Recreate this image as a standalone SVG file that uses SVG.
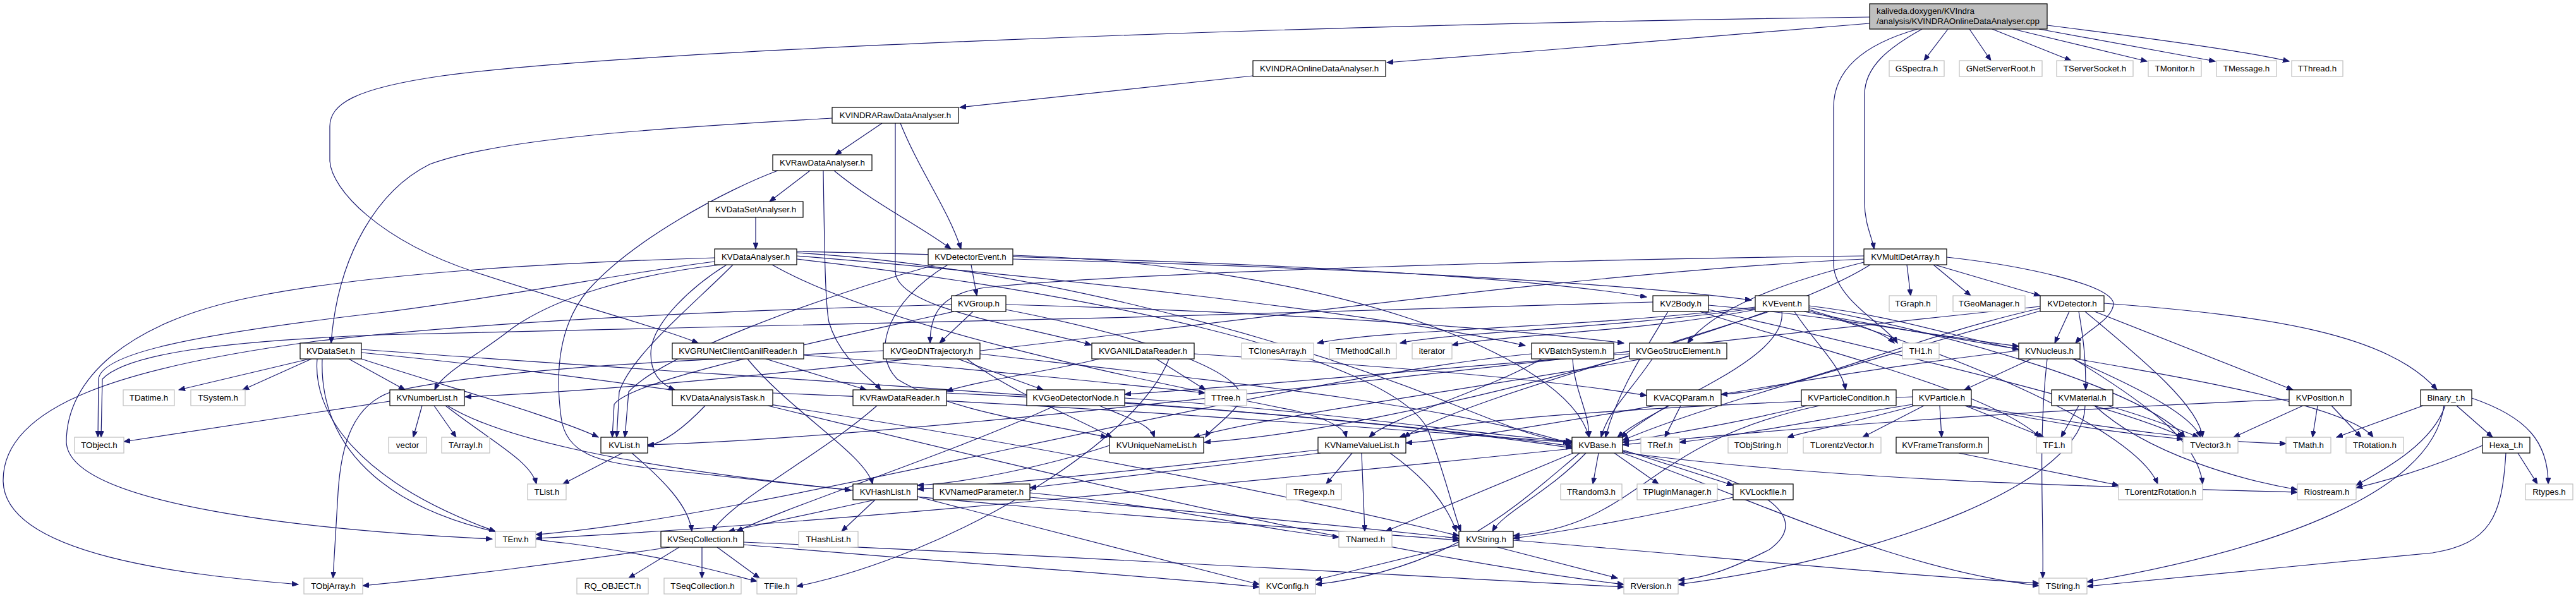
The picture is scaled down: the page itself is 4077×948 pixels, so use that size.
<svg xmlns="http://www.w3.org/2000/svg" width="4077" height="948" viewBox="0 0 4077 948">
<style>
.n rect{fill:#fff;stroke:#000;stroke-width:1.2}
.x rect{fill:#fff;stroke:#bfbfbf;stroke-width:1.2}
.r rect{fill:#bfbfbf;stroke:#000;stroke-width:1.2}
text{font-family:"Liberation Sans",Arial,sans-serif;font-size:13.33px;fill:#000;text-anchor:middle}
.r text{text-anchor:start}
.e path{fill:none;stroke:#191970;stroke-width:1.2;marker-end:url(#a)}
</style>
<defs>
<marker id="a" markerWidth="11" markerHeight="8" refX="10" refY="4" orient="auto" markerUnits="userSpaceOnUse"><path d="M0,0 L10,4 L0,8 z" fill="#191970" stroke="#191970" stroke-width="1"/></marker>
</defs>
<rect width="4077" height="948" fill="#fff"/>
<g id="edges" class="e">
<path d="M2959,37 C2700,58 2450,80 2195,99"/>
<path d="M2959,27 C2000,40 1000,80 700,120 C560,140 522,165 522,200 L522,255 C525,300 600,380 750,430 C900,480 1050,520 1105,543"/>
<path d="M3042,46 C2990,75 2951,105 2951,150 L2951,320 C2951,355 2963,375 2966,394"/>
<path d="M3035,46 C2950,70 2902,110 2902,170 L2902,420 C2905,475 2985,515 3003,543"/>
<path d="M3083,46 L3045,96"/>
<path d="M3117,46 L3151,96"/>
<path d="M3153,46 L3278,96"/>
<path d="M3186,46 L3398,97"/>
<path d="M3227,46 L3506,97"/>
<path d="M3240,40 C3400,60 3550,80 3623,97"/>
<path d="M1983,120 L1519,170"/>
<path d="M1396,195 L1322,245"/>
<path d="M1317,187 C1100,200 800,215 680,260 C600,300 535,400 524,543"/>
<path d="M1425,195 C1455,270 1500,330 1521,394"/>
<path d="M1417,195 L1417,430 C1420,490 1620,515 1727,546"/>
<path d="M1282,270 L1218,319"/>
<path d="M1303,270 C1305,400 1306,480 1312,510 C1330,570 1380,600 1394,617"/>
<path d="M1320,270 C1380,320 1460,360 1505,394"/>
<path d="M1231,270 C1150,300 1000,380 930,460 C880,520 880,600 888,660 C895,720 950,730 1020,740 C1150,755 1280,768 1347,776"/>
<path d="M1196,344 L1196,394"/>
<path d="M1131,408 C900,415 600,430 400,470 C200,510 105,600 105,700 C110,800 500,840 779,853"/>
<path d="M1131,414 C1000,430 800,470 600,495 C300,530 160,560 156,600 L155,692"/>
<path d="M1140,419 C1000,435 880,470 810,520 C760,560 700,590 688,617"/>
<path d="M1150,419 C1100,450 1030,510 1030,560 C1030,595 1050,610 1068,617"/>
<path d="M1261,400 C1600,420 2000,520 2300,640 C2400,680 2440,695 2484,701"/>
<path d="M1261,410 C1700,460 2200,560 2260,680 C2290,760 2300,810 2312,841"/>
<path d="M1222,419 C1400,520 1800,600 2050,650 C2110,665 2128,680 2131,692"/>
<path d="M1261,398 C1600,405 2300,420 2606,470"/>
<path d="M1261,405 C1700,440 2200,500 2414,547"/>
<path d="M1160,419 C1100,480 1000,560 980,620 L976,692"/>
<path d="M1537,419 L1546,468"/>
<path d="M1603,410 C2000,420 2500,440 2772,475"/>
<path d="M1500,419 C1400,480 1380,560 1420,600 C1500,650 1650,670 1752,692"/>
<path d="M1603,404 C2100,420 2480,560 2515,692"/>
<path d="M1480,419 C1300,470 1050,560 995,620 L989,692"/>
<path d="M1540,493 L1487,543"/>
<path d="M1592,482 C1900,490 2300,510 2570,543"/>
<path d="M1506,482 C1200,490 800,505 500,540 C200,580 5,640 5,760 C5,880 300,910 472,925"/>
<path d="M1510,493 C1300,540 1000,600 972,640 L969,692"/>
<path d="M1592,490 C1850,540 1990,600 1960,640 C1935,670 1915,680 1908,692"/>
<path d="M3018,419 L3024,468"/>
<path d="M3060,419 L3119,468"/>
<path d="M3062,419 L3229,468"/>
<path d="M3081,407 C3200,420 3340,450 3345,480 C3345,505 3300,525 3285,543"/>
<path d="M2950,415 C2850,440 2720,480 2671,543"/>
<path d="M2950,405 C2500,410 1800,430 1560,455 C1485,465 1472,500 1472,543"/>
<path d="M2950,410 C2300,440 1400,600 736,628"/>
<path d="M2960,419 C2800,520 2200,680 1906,700"/>
<path d="M2704,483 C2900,500 3050,530 3195,548"/>
<path d="M2704,490 C3000,560 3350,640 3455,692"/>
<path d="M2690,493 C2900,560 3150,620 3229,692"/>
<path d="M2640,493 C2600,560 2560,620 2541,692"/>
<path d="M2616,478 C2000,500 1000,520 600,530 C350,540 200,560 162,600 L160,692"/>
<path d="M2778,486 C2500,520 2200,520 2085,543"/>
<path d="M2778,488 C2550,520 2300,525 2216,543"/>
<path d="M2778,490 C2600,525 2380,530 2298,546"/>
<path d="M2863,484 C3000,500 3100,535 3195,553"/>
<path d="M2863,490 C2930,510 2980,525 2998,543"/>
<path d="M2840,493 C2870,540 2915,580 2921,617"/>
<path d="M2800,493 C2600,560 2300,640 2222,692"/>
<path d="M2820,493 C2830,570 2620,640 2560,692"/>
<path d="M2863,487 C3100,530 3400,620 3458,692"/>
<path d="M2863,492 C3100,560 3380,680 3415,766"/>
<path d="M2855,493 C3200,560 3700,620 3756,692"/>
<path d="M3275,493 L3252,543"/>
<path d="M3290,493 C3300,550 3301,580 3301,617"/>
<path d="M3315,493 L3629,617"/>
<path d="M3330,480 C3600,500 3780,530 3857,617"/>
<path d="M3229,488 C3000,540 2850,620 2724,624"/>
<path d="M3229,485 C2500,560 1500,690 1025,704"/>
<path d="M3300,493 C3380,560 3480,640 3486,692"/>
<path d="M3229,492 C3000,560 2700,640 2568,697"/>
<path d="M490,568 L283,617"/>
<path d="M493,568 L384,617"/>
<path d="M552,568 L641,617"/>
<path d="M572,568 C700,610 880,660 947,692"/>
<path d="M502,568 C495,650 560,760 784,841"/>
<path d="M510,568 C505,700 600,830 900,860 C1050,880 1120,900 1198,920"/>
<path d="M572,553 C1200,600 2000,640 2488,706"/>
<path d="M572,558 C1200,620 1900,750 2309,848"/>
<path d="M1183,568 C1250,650 1370,720 1381,766"/>
<path d="M1212,568 L1371,617"/>
<path d="M1272,562 C1500,580 1800,610 1907,622"/>
<path d="M1516,568 L1651,617"/>
<path d="M1398,555 C1100,570 800,580 620,620 C560,640 540,700 535,780 L527,915"/>
<path d="M1530,568 C1600,620 1700,660 1760,692"/>
<path d="M1551,560 C1900,600 2300,640 2488,703"/>
<path d="M1740,568 C1650,590 1560,600 1498,619"/>
<path d="M1830,568 L1908,617"/>
<path d="M1890,560 C2200,580 2450,600 2606,626"/>
<path d="M1850,568 C1800,700 1500,880 1261,928"/>
<path d="M2489,568 C2492,620 2515,650 2515,692"/>
<path d="M2440,568 C2350,620 2200,660 2167,692"/>
<path d="M2424,560 C2000,600 1200,820 848,846"/>
<path d="M2579,560 C2300,580 2000,610 1780,624"/>
<path d="M2600,568 C2300,620 2000,660 1889,692"/>
<path d="M2615,568 C2580,620 2545,650 2534,692"/>
<path d="M3215,568 L3109,617"/>
<path d="M3282,568 C3400,640 3480,700 3486,766"/>
<path d="M3240,568 C3225,700 3235,820 3233,915"/>
<path d="M3195,555 C2800,600 2400,690 2225,701"/>
<path d="M3280,568 C3400,620 3470,660 3483,692"/>
<path d="M617,635 L196,699"/>
<path d="M668,642 L654,692"/>
<path d="M687,642 L722,692"/>
<path d="M705,642 C780,700 840,730 849,766"/>
<path d="M708,642 C900,760 1600,800 2309,855"/>
<path d="M1116,642 C1080,680 1050,700 1025,706"/>
<path d="M1223,622 C1700,640 2200,680 2488,700"/>
<path d="M1215,642 C1700,760 2200,880 2570,925"/>
<path d="M1388,642 C1300,720 1160,790 1127,841"/>
<path d="M1498,622 C1900,640 2300,680 2488,709"/>
<path d="M1670,642 C1500,720 1250,800 1166,841"/>
<path d="M1740,642 C1780,660 1820,670 1827,692"/>
<path d="M1780,630 C2100,650 2350,690 2488,698"/>
<path d="M2640,642 C2610,660 2580,680 2566,693"/>
<path d="M2660,642 L2635,692"/>
<path d="M2860,642 C2750,670 2620,690 2568,700"/>
<path d="M2880,642 C2600,700 2600,830 2395,848"/>
<path d="M3027,640 C2900,660 2750,690 2658,700"/>
<path d="M3045,642 L2948,692"/>
<path d="M3070,642 L3073,692"/>
<path d="M3110,642 C3300,680 3400,690 3455,695"/>
<path d="M3115,642 C3350,680 3500,700 3618,702"/>
<path d="M3110,642 L3235,692"/>
<path d="M3027,628 C2700,640 2300,660 2215,692"/>
<path d="M3030,642 C2950,665 2870,680 2829,692"/>
<path d="M3290,642 L3262,692"/>
<path d="M3335,642 C3400,660 3450,680 3480,692"/>
<path d="M3315,642 C3400,720 3550,760 3636,775"/>
<path d="M3300,642 C3300,760 3000,880 2656,925"/>
<path d="M3623,632 C3200,650 2800,680 2568,704"/>
<path d="M3645,642 L3535,692"/>
<path d="M3668,642 L3660,692"/>
<path d="M3690,642 L3737,692"/>
<path d="M3835,642 L3698,692"/>
<path d="M3888,642 L3945,692"/>
<path d="M3912,630 C4000,660 4033,700 4033,766"/>
<path d="M3870,642 C3850,700 3780,740 3729,768"/>
<path d="M3868,642 C3850,780 3600,870 3303,921"/>
<path d="M985,717 L891,766"/>
<path d="M1000,717 C1050,760 1090,800 1095,841"/>
<path d="M1756,705 C1650,740 1520,765 1452,768"/>
<path d="M2086,712 C1800,745 1550,770 1452,774"/>
<path d="M2090,717 C1900,740 1700,765 1630,772"/>
<path d="M2140,717 L2099,766"/>
<path d="M2155,717 L2160,841"/>
<path d="M2200,717 C2260,760 2290,800 2305,841"/>
<path d="M2530,717 L2521,766"/>
<path d="M2555,717 L2625,766"/>
<path d="M2568,712 L2743,768"/>
<path d="M2490,717 L2193,841"/>
<path d="M2510,717 C2450,780 2380,810 2362,841"/>
<path d="M2500,717 C2400,800 2300,900 2082,925"/>
<path d="M2568,714 C2800,760 2870,820 2800,870 C2740,900 2700,915 2656,918"/>
<path d="M2568,716 C2900,760 3300,770 3636,779"/>
<path d="M2568,717 C2800,800 3000,900 3227,927"/>
<path d="M2488,710 C2000,760 1300,830 848,852"/>
<path d="M3100,717 L3353,768"/>
<path d="M3929,705 C3850,740 3780,760 3729,772"/>
<path d="M3985,717 L4016,766"/>
<path d="M3966,717 C3960,820 3940,860 3850,875 C3600,900 3400,920 3303,928"/>
<path d="M1385,791 L1153,841"/>
<path d="M1385,791 L1332,841"/>
<path d="M1452,786 C1700,850 1900,900 1993,925"/>
<path d="M1630,780 C1850,800 2000,840 2119,850"/>
<path d="M1630,787 C1900,810 2150,835 2309,852"/>
<path d="M2743,787 C2600,820 2450,845 2395,852"/>
<path d="M1111,866 L1111,915"/>
<path d="M1135,866 L1202,915"/>
<path d="M1075,866 L995,915"/>
<path d="M1060,866 C900,890 700,915 574,927"/>
<path d="M1177,862 C1500,890 1800,910 1993,929"/>
<path d="M1177,858 C1700,880 2200,910 2570,929"/>
<path d="M2310,862 L2082,918"/>
<path d="M2370,866 L2560,915"/>
<path d="M2395,855 C2700,880 3000,910 3227,923"/>
</g>
<g id="n0" class="r"><rect x="2959" y="6" width="281" height="40"/><text x="2970" y="22">kaliveda.doxygen/KVIndra</text><text x="2970" y="38">/analysis/KVINDRAOnlineDataAnalyser.cpp</text></g>
<g id="n1" class="n"><rect x="1983" y="96" width="210" height="25"/><text x="2088" y="113">KVINDRAOnlineDataAnalyser.h</text></g>
<g id="n2" class="x"><rect x="2990" y="96" width="87" height="25"/><text x="3033.5" y="113">GSpectra.h</text></g>
<g id="n3" class="x"><rect x="3101" y="96" width="131" height="25"/><text x="3166.5" y="113">GNetServerRoot.h</text></g>
<g id="n4" class="x"><rect x="3255" y="96" width="121" height="25"/><text x="3315.5" y="113">TServerSocket.h</text></g>
<g id="n5" class="x"><rect x="3400" y="96" width="84" height="25"/><text x="3442" y="113">TMonitor.h</text></g>
<g id="n6" class="x"><rect x="3508" y="96" width="95" height="25"/><text x="3555.5" y="113">TMessage.h</text></g>
<g id="n7" class="x"><rect x="3627" y="96" width="81" height="25"/><text x="3667.5" y="113">TThread.h</text></g>
<g id="n8" class="n"><rect x="1317" y="170" width="200" height="25"/><text x="1417" y="187">KVINDRARawDataAnalyser.h</text></g>
<g id="n9" class="n"><rect x="1223" y="245" width="157" height="25"/><text x="1301.5" y="262">KVRawDataAnalyser.h</text></g>
<g id="n10" class="n"><rect x="1121" y="319" width="150" height="25"/><text x="1196" y="336">KVDataSetAnalyser.h</text></g>
<g id="n11" class="n"><rect x="1131" y="394" width="130" height="25"/><text x="1196" y="411">KVDataAnalyser.h</text></g>
<g id="n12" class="n"><rect x="1469" y="394" width="134" height="25"/><text x="1536" y="411">KVDetectorEvent.h</text></g>
<g id="n13" class="n"><rect x="2950" y="394" width="131" height="25"/><text x="3015.5" y="411">KVMultiDetArray.h</text></g>
<g id="n14" class="n"><rect x="1506" y="468" width="86" height="25"/><text x="1549" y="485">KVGroup.h</text></g>
<g id="n15" class="n"><rect x="2616" y="468" width="88" height="25"/><text x="2660" y="485">KV2Body.h</text></g>
<g id="n16" class="n"><rect x="2778" y="468" width="85" height="25"/><text x="2820.5" y="485">KVEvent.h</text></g>
<g id="n17" class="x"><rect x="2990" y="468" width="75" height="25"/><text x="3027.5" y="485">TGraph.h</text></g>
<g id="n18" class="x"><rect x="3091" y="468" width="114" height="25"/><text x="3148" y="485">TGeoManager.h</text></g>
<g id="n19" class="n"><rect x="3229" y="468" width="101" height="25"/><text x="3279.5" y="485">KVDetector.h</text></g>
<g id="n20" class="n"><rect x="475" y="543" width="97" height="25"/><text x="523.5" y="560">KVDataSet.h</text></g>
<g id="n21" class="n"><rect x="1064" y="543" width="208" height="25"/><text x="1168" y="560">KVGRUNetClientGanilReader.h</text></g>
<g id="n22" class="n"><rect x="1398" y="543" width="153" height="25"/><text x="1474.5" y="560">KVGeoDNTrajectory.h</text></g>
<g id="n23" class="n"><rect x="1728" y="543" width="162" height="25"/><text x="1809" y="560">KVGANILDataReader.h</text></g>
<g id="n24" class="x"><rect x="1965" y="543" width="114" height="25"/><text x="2022" y="560">TClonesArray.h</text></g>
<g id="n25" class="x"><rect x="2104" y="543" width="106" height="25"/><text x="2157" y="560">TMethodCall.h</text></g>
<g id="n26" class="x"><rect x="2235" y="543" width="63" height="25"/><text x="2266.5" y="560">iterator</text></g>
<g id="n27" class="n"><rect x="2424" y="543" width="130" height="25"/><text x="2489" y="560">KVBatchSystem.h</text></g>
<g id="n28" class="n"><rect x="2579" y="543" width="154" height="25"/><text x="2656" y="560">KVGeoStrucElement.h</text></g>
<g id="n29" class="x"><rect x="3011" y="543" width="58" height="25"/><text x="3040" y="560">TH1.h</text></g>
<g id="n30" class="n"><rect x="3195" y="543" width="97" height="25"/><text x="3243.5" y="560">KVNucleus.h</text></g>
<g id="n31" class="x"><rect x="195" y="617" width="81" height="25"/><text x="235.5" y="634">TDatime.h</text></g>
<g id="n32" class="x"><rect x="302" y="617" width="86" height="25"/><text x="345" y="634">TSystem.h</text></g>
<g id="n33" class="n"><rect x="617" y="617" width="118" height="25"/><text x="676" y="634">KVNumberList.h</text></g>
<g id="n34" class="n"><rect x="1064" y="617" width="159" height="25"/><text x="1143.5" y="634">KVDataAnalysisTask.h</text></g>
<g id="n35" class="n"><rect x="1350" y="617" width="148" height="25"/><text x="1424" y="634">KVRawDataReader.h</text></g>
<g id="n36" class="n"><rect x="1625" y="617" width="155" height="25"/><text x="1702.5" y="634">KVGeoDetectorNode.h</text></g>
<g id="n37" class="x"><rect x="1907" y="617" width="66" height="25"/><text x="1940" y="634">TTree.h</text></g>
<g id="n38" class="n"><rect x="2606" y="617" width="118" height="25"/><text x="2665" y="634">KVACQParam.h</text></g>
<g id="n39" class="n"><rect x="2851" y="617" width="150" height="25"/><text x="2926" y="634">KVParticleCondition.h</text></g>
<g id="n40" class="n"><rect x="3027" y="617" width="93" height="25"/><text x="3073.5" y="634">KVParticle.h</text></g>
<g id="n41" class="n"><rect x="3247" y="617" width="97" height="25"/><text x="3295.5" y="634">KVMaterial.h</text></g>
<g id="n42" class="n"><rect x="3623" y="617" width="98" height="25"/><text x="3672" y="634">KVPosition.h</text></g>
<g id="n43" class="n"><rect x="3831" y="617" width="81" height="25"/><text x="3871.5" y="634">Binary_t.h</text></g>
<g id="n44" class="x"><rect x="118" y="692" width="78" height="25"/><text x="157" y="709">TObject.h</text></g>
<g id="n45" class="x"><rect x="615" y="692" width="60" height="25"/><text x="645" y="709">vector</text></g>
<g id="n46" class="x"><rect x="699" y="692" width="76" height="25"/><text x="737" y="709">TArrayI.h</text></g>
<g id="n47" class="n"><rect x="951" y="692" width="74" height="25"/><text x="988" y="709">KVList.h</text></g>
<g id="n48" class="n"><rect x="1756" y="692" width="149" height="25"/><text x="1830.5" y="709">KVUniqueNameList.h</text></g>
<g id="n49" class="n"><rect x="2086" y="692" width="139" height="25"/><text x="2155.5" y="709">KVNameValueList.h</text></g>
<g id="n50" class="n"><rect x="2488" y="692" width="80" height="25"/><text x="2528" y="709">KVBase.h</text></g>
<g id="n51" class="x"><rect x="2597" y="692" width="61" height="25"/><text x="2627.5" y="709">TRef.h</text></g>
<g id="n52" class="x"><rect x="2735" y="692" width="94" height="25"/><text x="2782" y="709">TObjString.h</text></g>
<g id="n53" class="x"><rect x="2854" y="692" width="123" height="25"/><text x="2915.5" y="709">TLorentzVector.h</text></g>
<g id="n54" class="n"><rect x="3001" y="692" width="146" height="25"/><text x="3074" y="709">KVFrameTransform.h</text></g>
<g id="n55" class="x"><rect x="3223" y="692" width="56" height="25"/><text x="3251" y="709">TF1.h</text></g>
<g id="n56" class="x"><rect x="3455" y="692" width="87" height="25"/><text x="3498.5" y="709">TVector3.h</text></g>
<g id="n57" class="x"><rect x="3618" y="692" width="71" height="25"/><text x="3653.5" y="709">TMath.h</text></g>
<g id="n58" class="x"><rect x="3713" y="692" width="91" height="25"/><text x="3758.5" y="709">TRotation.h</text></g>
<g id="n59" class="n"><rect x="3929" y="692" width="75" height="25"/><text x="3966.5" y="709">Hexa_t.h</text></g>
<g id="n60" class="x"><rect x="835" y="766" width="61" height="25"/><text x="865.5" y="783">TList.h</text></g>
<g id="n61" class="n"><rect x="1350" y="766" width="102" height="25"/><text x="1401" y="783">KVHashList.h</text></g>
<g id="n62" class="n"><rect x="1477" y="766" width="153" height="25"/><text x="1553.5" y="783">KVNamedParameter.h</text></g>
<g id="n63" class="x"><rect x="2036" y="766" width="87" height="25"/><text x="2079.5" y="783">TRegexp.h</text></g>
<g id="n64" class="x"><rect x="2470" y="766" width="97" height="25"/><text x="2518.5" y="783">TRandom3.h</text></g>
<g id="n65" class="x"><rect x="2591" y="766" width="127" height="25"/><text x="2654.5" y="783">TPluginManager.h</text></g>
<g id="n66" class="n"><rect x="2743" y="766" width="95" height="25"/><text x="2790.5" y="783">KVLockfile.h</text></g>
<g id="n67" class="x"><rect x="3353" y="766" width="133" height="25"/><text x="3419.5" y="783">TLorentzRotation.h</text></g>
<g id="n68" class="x"><rect x="3636" y="766" width="93" height="25"/><text x="3682.5" y="783">Riostream.h</text></g>
<g id="n69" class="x"><rect x="3997" y="766" width="75" height="25"/><text x="4034.5" y="783">Rtypes.h</text></g>
<g id="n70" class="x"><rect x="784" y="841" width="64" height="25"/><text x="816" y="858">TEnv.h</text></g>
<g id="n71" class="n"><rect x="1046" y="841" width="131" height="25"/><text x="1111.5" y="858">KVSeqCollection.h</text></g>
<g id="n72" class="x"><rect x="1264" y="841" width="94" height="25"/><text x="1311" y="858">THashList.h</text></g>
<g id="n73" class="x"><rect x="2119" y="841" width="84" height="25"/><text x="2161" y="858">TNamed.h</text></g>
<g id="n74" class="n"><rect x="2309" y="841" width="86" height="25"/><text x="2352" y="858">KVString.h</text></g>
<g id="n75" class="x"><rect x="481" y="915" width="93" height="25"/><text x="527.5" y="932">TObjArray.h</text></g>
<g id="n76" class="x"><rect x="913" y="915" width="113" height="25"/><text x="969.5" y="932">RQ_OBJECT.h</text></g>
<g id="n77" class="x"><rect x="1051" y="915" width="122" height="25"/><text x="1112" y="932">TSeqCollection.h</text></g>
<g id="n78" class="x"><rect x="1198" y="915" width="63" height="25"/><text x="1229.5" y="932">TFile.h</text></g>
<g id="n79" class="x"><rect x="1993" y="915" width="89" height="25"/><text x="2037.5" y="932">KVConfig.h</text></g>
<g id="n80" class="x"><rect x="2570" y="915" width="86" height="25"/><text x="2613" y="932">RVersion.h</text></g>
<g id="n81" class="x"><rect x="3227" y="915" width="76" height="25"/><text x="3265" y="932">TString.h</text></g>
</svg>
